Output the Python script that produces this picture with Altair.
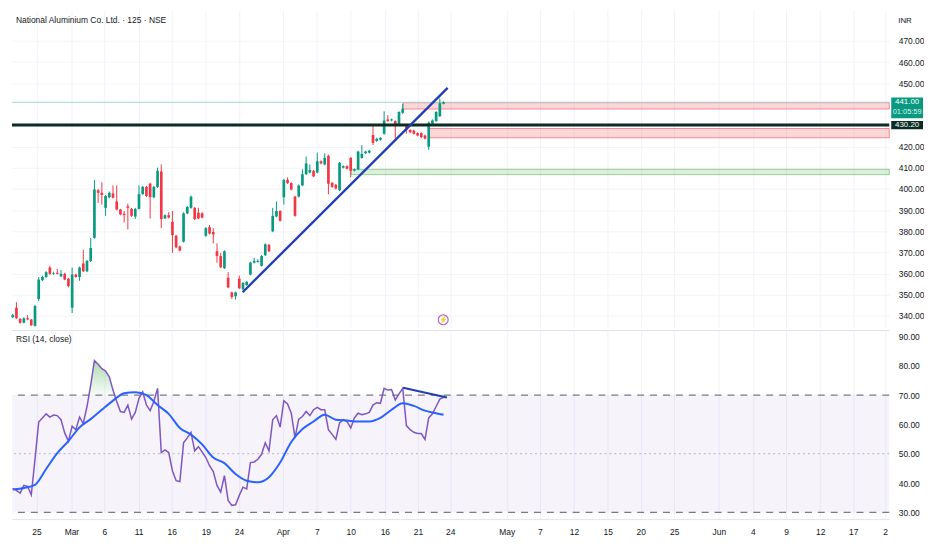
import json
import altair as alt
import pandas as pd

# ---------------- data ----------------
title_text = "National Aluminium Co. Ltd. · 125 · NSE"

opens = [339.4, 343.9, 338.6, 336.8, 338.9, 338.3, 335.3, 348.0, 356.9, 358.4,
         362.9, 359.9, 360.4, 358.7, 359.9, 357.6, 343.9, 359.6, 358.4, 364.8,
         361.1, 366.0, 376.9, 399.4, 398.2, 391.1, 396.1, 397.9, 394.1, 390.3,
         388.3, 391.8, 390.6, 387.0, 390.6, 397.6, 401.0, 402.5, 396.1, 401.0,
         408.3, 386.1, 387.6, 384.5, 377.9, 372.8, 375.1, 388.5, 391.1, 391.1,
         388.8, 388.5, 377.9, 382.0, 379.7, 370.6, 368.3, 362.6, 358.1, 351.1,
         349.3, 357.6, 352.6, 354.6, 359.6, 365.2, 365.5, 363.7, 368.7, 373.6,
         380.0, 387.0, 389.6, 396.1, 404.3, 402.8, 396.4, 396.4, 401.7, 407.0,
         407.8, 408.6, 407.8, 413.1, 411.6, 415.7, 402.9, 402.0, 399.4, 410.1,
         410.8, 414.7, 408.7, 409.3, 414.7, 416.9, 417.2, 425.5, 422.7, 423.3,
         426.1, 432.9, 432.4, 432.1, 430.6, 436.0, 429.9, 427.9, 427.6, 426.4,
         426.4, 425.3, 420.0, 430.9, 432.1, 434.4, 440.3]
highs = [341.0, 346.5, 339.0, 339.4, 340.4, 338.6, 345.2, 358.4, 359.0, 361.2,
         363.7, 360.9, 362.2, 361.7, 360.4, 358.0, 362.9, 360.0, 363.3, 371.3,
         366.5, 376.9, 404.3, 400.0, 403.2, 397.2, 398.8, 401.7, 401.7, 390.6,
         389.6, 393.1, 391.1, 391.1, 401.7, 401.5, 401.5, 403.0, 401.5, 410.1,
         411.6, 388.0, 389.1, 389.6, 378.3, 373.2, 389.0, 392.0, 396.9, 391.5,
         391.1, 389.1, 382.0, 383.0, 381.5, 374.3, 369.8, 371.0, 360.7, 351.5,
         351.5, 359.1, 356.0, 356.6, 365.6, 367.5, 366.8, 368.8, 374.3, 374.0,
         391.1, 394.1, 390.0, 404.8, 405.5, 403.2, 396.8, 402.1, 409.3, 415.4,
         411.6, 409.0, 417.2, 413.5, 416.9, 416.2, 403.3, 402.4, 412.8, 411.2,
         411.2, 415.1, 409.7, 418.1, 420.7, 418.1, 418.5, 429.9, 424.2, 424.6,
         436.7, 434.9, 433.3, 432.5, 436.8, 440.3, 430.3, 428.3, 428.0, 426.8,
         426.8, 425.7, 431.8, 432.9, 436.8, 442.8, 441.4]
lows = [339.0, 338.6, 336.3, 336.5, 338.0, 335.3, 335.0, 347.0, 356.5, 358.0,
        359.4, 359.4, 359.6, 358.4, 356.9, 353.5, 341.4, 358.0, 356.6, 360.7,
        360.7, 365.5, 376.5, 393.4, 392.6, 387.3, 395.6, 395.5, 389.9, 387.6,
        384.2, 380.9, 386.8, 385.8, 390.3, 397.2, 396.2, 386.1, 395.6, 400.5,
        381.5, 385.8, 386.1, 369.8, 372.0, 370.5, 374.7, 388.1, 390.7, 385.3,
        385.7, 386.1, 377.4, 378.5, 374.3, 365.2, 362.6, 362.2, 353.1, 348.0,
        347.7, 352.7, 352.2, 354.2, 359.2, 364.8, 365.2, 363.3, 368.3, 370.2,
        379.6, 386.6, 384.6, 392.6, 402.4, 399.3, 386.9, 396.0, 401.3, 406.6,
        407.4, 405.6, 407.4, 411.7, 411.2, 397.5, 400.6, 399.8, 399.0, 409.7,
        409.2, 405.5, 408.3, 408.9, 414.3, 416.5, 416.8, 420.8, 422.3, 422.9,
        425.7, 431.7, 432.0, 423.8, 430.2, 435.6, 426.1, 426.4, 425.7, 424.9,
        424.1, 423.4, 418.5, 430.5, 431.7, 434.0, 440.0]
closes = [340.4, 338.9, 336.8, 338.9, 338.3, 335.6, 344.7, 357.2, 358.4, 360.7,
          359.9, 360.2, 359.9, 359.9, 357.2, 354.1, 359.6, 358.4, 362.9, 361.1,
          366.0, 372.1, 399.8, 398.2, 397.2, 396.7, 398.2, 395.9, 390.3, 388.0,
          387.7, 391.1, 387.3, 390.6, 397.6, 401.0, 396.7, 396.1, 401.0, 408.6,
          385.8, 387.6, 386.5, 378.2, 372.4, 370.9, 388.5, 391.5, 396.4, 385.8,
          386.1, 386.5, 381.5, 378.9, 378.5, 368.3, 363.0, 370.6, 353.5, 349.0,
          351.1, 353.1, 355.6, 356.1, 365.2, 366.0, 366.0, 368.3, 373.9, 370.6,
          387.3, 389.6, 385.0, 404.3, 402.8, 399.7, 387.3, 401.7, 407.0, 412.1,
          409.0, 406.0, 413.1, 412.1, 414.7, 402.5, 401.0, 400.2, 412.4, 410.8,
          409.6, 408.6, 409.3, 417.7, 416.6, 417.7, 418.1, 421.8, 423.8, 424.2,
          432.4, 432.1, 432.9, 430.3, 436.4, 438.0, 427.9, 426.8, 426.1, 425.3,
          424.5, 423.8, 431.4, 432.4, 436.4, 440.5, 441.0]

rsi = [38.2, 37.5, 36.6, 39.2, 38.9, 36.0, 48.1, 60.8, 62.2, 63.6,
       62.5, 63.2, 63.0, 61.6, 57.1, 54.3, 59.4, 58.2, 62.5, 60.3,
       66.1, 73.4, 81.8, 80.5, 79.0, 78.2, 76.2, 71.7, 67.8, 64.4,
       64.1, 66.6, 61.8, 64.1, 68.9, 71.1, 66.6, 64.7, 67.8, 72.3,
       50.4, 51.3, 50.4, 44.2, 40.8, 40.5, 53.7, 55.4, 57.3, 51.0,
       52.4, 50.6, 48.7, 45.9, 43.9, 39.2, 36.9, 42.5, 34.1, 32.4,
       32.6, 35.8, 38.6, 38.0, 47.0, 47.2, 48.1, 49.8, 53.7, 51.0,
       61.6, 63.0, 59.1, 68.1, 67.0, 63.8, 55.4, 61.8, 62.7, 64.4,
       63.0, 65.0, 65.8, 65.0, 65.0, 58.2, 56.6, 54.9, 60.5, 61.6,
       61.0, 58.8, 62.2, 63.8, 63.3, 63.6, 64.1, 66.6, 67.4, 67.2,
       72.3, 71.7, 71.9, 68.3, 70.4, 72.3, 59.6, 58.2, 57.3, 56.9,
       56.9, 54.9, 62.2, 63.6, 66.1, 68.6, 69.2]

rsi_ma_idx = [0, 3, 6, 9, 12, 15, 18, 21, 24, 27, 30, 33, 36, 39, 42, 45, 48, 51, 54, 57,
              60, 63, 66, 69, 72, 75, 78, 81, 84, 87, 90, 93, 96, 99, 102, 105, 108, 111, 114, 116]
rsi_ma = [37.8, 38.3, 39.4, 44.8, 50.2, 54.3, 59.0, 61.8, 65.0, 68.1,
          70.6, 71.0, 70.0, 66.6, 63.6, 58.8, 56.5, 53.2, 48.7, 46.8,
          43.1, 40.8, 40.3, 42.0, 47.0, 54.0, 58.4, 61.0, 63.3, 61.6,
          61.3, 61.0, 61.0, 62.2, 65.0, 67.2, 66.3, 64.7, 63.8, 63.3]

x_tick_pos = [6.4, 15.8, 24.7, 33.9, 42.8, 52.0, 60.9, 72.7, 81.9, 91.0, 100.2, 109.1, 117.8,
              133.0, 141.9, 151.1, 160.2, 169.1, 178.1, 190.1, 199.3, 208.2, 217.4, 226.3, 234.9]
x_tick_lab = ["25", "Mar", "6", "11", "16", "19", "24", "Apr", "7", "10", "16", "21", "24",
              "May", "7", "12", "15", "20", "25", "Jun", "4", "9", "12", "17", "2"]

price_ticks = [340, 350, 360, 370, 380, 390, 400, 410, 420, 450, 460, 470]
rsi_ticks = [30, 40, 50, 60, 70, 80, 90]

trend_price_i = [61.9, 117.1]
trend_price_p = [351.2, 447.8]
trend_rsi_i = [105.1, 116.9]
trend_rsi_v = [72.5, 69.2]

zone_start = [105.1, 112.1, 91.1]
zone_top = [440.8, 428.6, 409.3]
zone_bottom = [437.8, 424.2, 406.8]
zone_kind = ["supply", "supply", "demand"]

level_black = 430.20
last_price = closes[-1]
countdown = "01:05:59"
rsi_levels = [70, 30]
rsi_mid = 50
icon_pos = (115.9, 338.2)

# ---------------- layout / styles ----------------
W, H1, H2 = 884, 320, 190
XDOM = [-0.2, 236.0]
GREEN, RED = "#089981", "#f23645"
TXT = "#131722"
FONT = "'Liberation Sans Narrow', 'Liberation Sans', Arial, sans-serif"

x_scale = alt.Scale(domain=XDOM, nice=False, zero=False)
y_price = alt.Scale(domain=[334.5, 484.6], nice=False, zero=False)
y_rsi = alt.Scale(domain=[27.7, 92.0], nice=False, zero=False)

label_expr = "%s[indexof(%s, datum.value)]" % (json.dumps(x_tick_lab), json.dumps(x_tick_pos))
x_axis_top = alt.Axis(values=x_tick_pos, labels=False, ticks=False, domain=False,
                      grid=True, gridColor="#f0f3fa", title=None)
x_axis_bot = alt.Axis(values=x_tick_pos, labelExpr=label_expr, ticks=False, domain=True,
                      domainColor="#e0e3eb", grid=True, gridColor="#f0f3fa", title=None,
                      labelColor=TXT, labelFontSize=8.5, labelPadding=9,
                      labelOverlap=False, labelFlush=False)
y_axis_top = alt.Axis(orient="right", values=price_ticks, format=".2f", ticks=False,
                      domain=False, grid=True, gridColor="#f3f4f8", title=None,
                      labelColor=TXT, labelFontSize=8.5, labelPadding=9)
y_axis_rsi = alt.Axis(orient="right", values=rsi_ticks, format=".2f", ticks=False,
                      domain=False, grid=False, title=None,
                      labelColor=TXT, labelFontSize=8.5, labelPadding=9)

def X(field):
    return alt.X(field, scale=x_scale, axis=x_axis_top)

def XB(field):
    return alt.X(field, scale=x_scale, axis=x_axis_bot)

def YP(field):
    return alt.Y(field, scale=y_price, axis=y_axis_top)

def YR(field):
    return alt.Y(field, scale=y_rsi, axis=y_axis_rsi)

# ---------------- price panel ----------------
candles = pd.DataFrame({"i": list(range(len(closes))), "o": opens, "h": highs,
                        "l": lows, "c": closes})
cbase = alt.Chart(candles).transform_calculate(
    dir="datum.c >= datum.o ? 'up' : 'down'")
ccolor = alt.Color("dir:N", scale=alt.Scale(domain=["up", "down"], range=[GREEN, RED]),
                   legend=None)
wicks = cbase.mark_rule(strokeWidth=1).encode(x=X("i:Q"), y=YP("l:Q"), y2="h:Q", color=ccolor)
bodies = cbase.mark_rule(strokeWidth=2.7).encode(x=X("i:Q"), y=YP("o:Q"), y2="c:Q", color=ccolor)

zones_df = pd.DataFrame({"s": zone_start, "t": zone_top, "b": zone_bottom, "k": zone_kind})
zones = alt.Chart(zones_df).transform_calculate(e=str(XDOM[1])).mark_rect(
    fillOpacity=0.2, strokeWidth=1, strokeOpacity=0.55).encode(
    x=X("s:Q"), x2="e:Q", y=YP("t:Q"), y2="b:Q",
    fill=alt.Fill("k:N", scale=alt.Scale(domain=["supply", "demand"], range=[RED, "#4caf50"]), legend=None),
    stroke=alt.Stroke("k:N", scale=alt.Scale(domain=["supply", "demand"], range=[RED, "#4caf50"]), legend=None))

price_line = alt.Chart(pd.DataFrame({"p": [last_price]})).mark_rule(
    color="#9fd8cc", strokeWidth=1).encode(y=YP("p:Q"))
black_line = alt.Chart(pd.DataFrame({"p": [level_black]})).mark_rule(
    color="#0b2c25", strokeWidth=3).encode(y=YP("p:Q"))

trend = alt.Chart(pd.DataFrame({"i": trend_price_i, "p": trend_price_p})).mark_line(
    color="#1f3db4", strokeWidth=2.3).encode(x=X("i:Q"), y=YP("p:Q"))

icon_df = pd.DataFrame({"i": [icon_pos[0]], "p": [icon_pos[1]], "t": ["⚡"]})
icon_c = alt.Chart(icon_df).mark_point(shape="circle", size=100, filled=False,
                                       color="#9c27b0", strokeWidth=1.2).encode(
    x=X("i:Q"), y=YP("p:Q"))
icon_t = alt.Chart(icon_df).mark_text(fontSize=7, color="#9c27b0").encode(
    x=X("i:Q"), y=YP("p:Q"), text="t:N")

title_t = alt.Chart(pd.DataFrame({"t": [title_text]})).mark_text(
    align="left", baseline="middle", fontSize=8.5, color=TXT).encode(
    x=alt.value(4), y=alt.value(10), text="t:N")
inr_t = alt.Chart(pd.DataFrame({"t": ["INR"]})).mark_text(
    align="left", baseline="middle", fontSize=8, color=TXT).encode(
    x=alt.value(W + 9), y=alt.value(11), text="t:N")

last_df = pd.DataFrame({"p": [last_price], "t1": ["%.2f" % last_price], "t2": [countdown]})
last_box = alt.Chart(last_df).transform_calculate(
    top="datum.p + 2.2", bot="datum.p - 7.6").mark_rect(fill=GREEN).encode(
    x=alt.value(W + 2), x2=alt.value(W + 34), y=YP("top:Q"), y2="bot:Q")
last_t1 = alt.Chart(last_df).transform_calculate(q="datum.p - 0.1").mark_text(
    fontSize=8, color="white", baseline="middle").encode(
    x=alt.value(W + 18), y=YP("q:Q"), text="t1:N")
last_t2 = alt.Chart(last_df).transform_calculate(q="datum.p - 4.6").mark_text(
    fontSize=7.5, color="#d8f3ee", baseline="middle").encode(
    x=alt.value(W + 18), y=YP("q:Q"), text="t2:N")

lvl_df = pd.DataFrame({"p": [level_black], "t": ["%.2f" % level_black]})
lvl_box = alt.Chart(lvl_df).transform_calculate(
    top="datum.p + 1.9", bot="datum.p - 1.9").mark_rect(fill="#0b2c25").encode(
    x=alt.value(W + 2), x2=alt.value(W + 34), y=YP("top:Q"), y2="bot:Q")
lvl_t = alt.Chart(lvl_df).mark_text(fontSize=8, color="white", baseline="middle").encode(
    x=alt.value(W + 18), y=YP("p:Q"), text="t:N")

top = alt.layer(
    zones, price_line, wicks, bodies, black_line, trend, icon_c, icon_t,
    title_t, inr_t, last_box, last_t1, last_t2, lvl_box, lvl_t
).properties(width=W, height=H1)

# ---------------- RSI panel ----------------
rsi_df = pd.DataFrame({"i": list(range(len(rsi))), "r": rsi})
ma_df = pd.DataFrame({"i": rsi_ma_idx, "m": rsi_ma})

band = alt.Chart(pd.DataFrame({"a": [XDOM[0]], "b": [XDOM[1]],
                               "u": [rsi_levels[0]], "d": [rsi_levels[1]]})).mark_rect(
    fill="#7e57c2", opacity=0.07).encode(x=XB("a:Q"), x2="b:Q", y=YR("u:Q"), y2="d:Q")

grad = alt.Gradient(gradient="linear",
                    stops=[alt.GradientStop(color="rgba(76,175,80,0.45)", offset=0),
                           alt.GradientStop(color="rgba(76,175,80,0.04)", offset=1)],
                    x1=0, x2=0, y1=0, y2=1)
ob_area = alt.Chart(rsi_df).transform_calculate(
    ob="max(datum.r, %d)" % rsi_levels[0], base=str(rsi_levels[0])).mark_area(
    fill=grad).encode(x=XB("i:Q"), y=YR("ob:Q"), y2="base:Q")

lvl_rules = alt.Chart(pd.DataFrame({"v": rsi_levels})).mark_rule(
    color="#787b86", strokeWidth=1.3, strokeDash=[7, 6]).encode(y=YR("v:Q"))
mid_rule = alt.Chart(pd.DataFrame({"v": [rsi_mid]})).mark_rule(
    color="#b2b5be", strokeWidth=1, strokeDash=[2, 3]).encode(y=YR("v:Q"))
divider = alt.Chart(pd.DataFrame({"v": [0]})).mark_rule(
    color="#e0e3eb", strokeWidth=1).encode(y=alt.value(0))

rsi_line = alt.Chart(rsi_df).mark_line(color="#7e57c2", strokeWidth=1.5).encode(
    x=XB("i:Q"), y=YR("r:Q"))
ma_line = alt.Chart(ma_df).mark_line(color="#2962ff", strokeWidth=2, interpolate="monotone").encode(
    x=XB("i:Q"), y=YR("m:Q"))
rsi_trend = alt.Chart(pd.DataFrame({"i": trend_rsi_i, "v": trend_rsi_v})).mark_line(
    color="#1f3db4", strokeWidth=2).encode(x=XB("i:Q"), y=YR("v:Q"))
rsi_title = alt.Chart(pd.DataFrame({"t": ["RSI (14, close)"]})).mark_text(
    align="left", baseline="middle", fontSize=8.5, color=TXT).encode(
    x=alt.value(4), y=alt.value(9), text="t:N")

bottom = alt.layer(
    band, ob_area, lvl_rules, mid_rule, divider, rsi_line, ma_line, rsi_trend, rsi_title
).properties(width=W, height=H2)

chart = alt.vconcat(top, bottom, spacing=2).resolve_scale(
    y="independent").properties(padding=0).configure(
    font=FONT, background="white").configure_view(stroke=None)

chart.save("out.html", embed_options={"renderer": "svg", "actions": False})
